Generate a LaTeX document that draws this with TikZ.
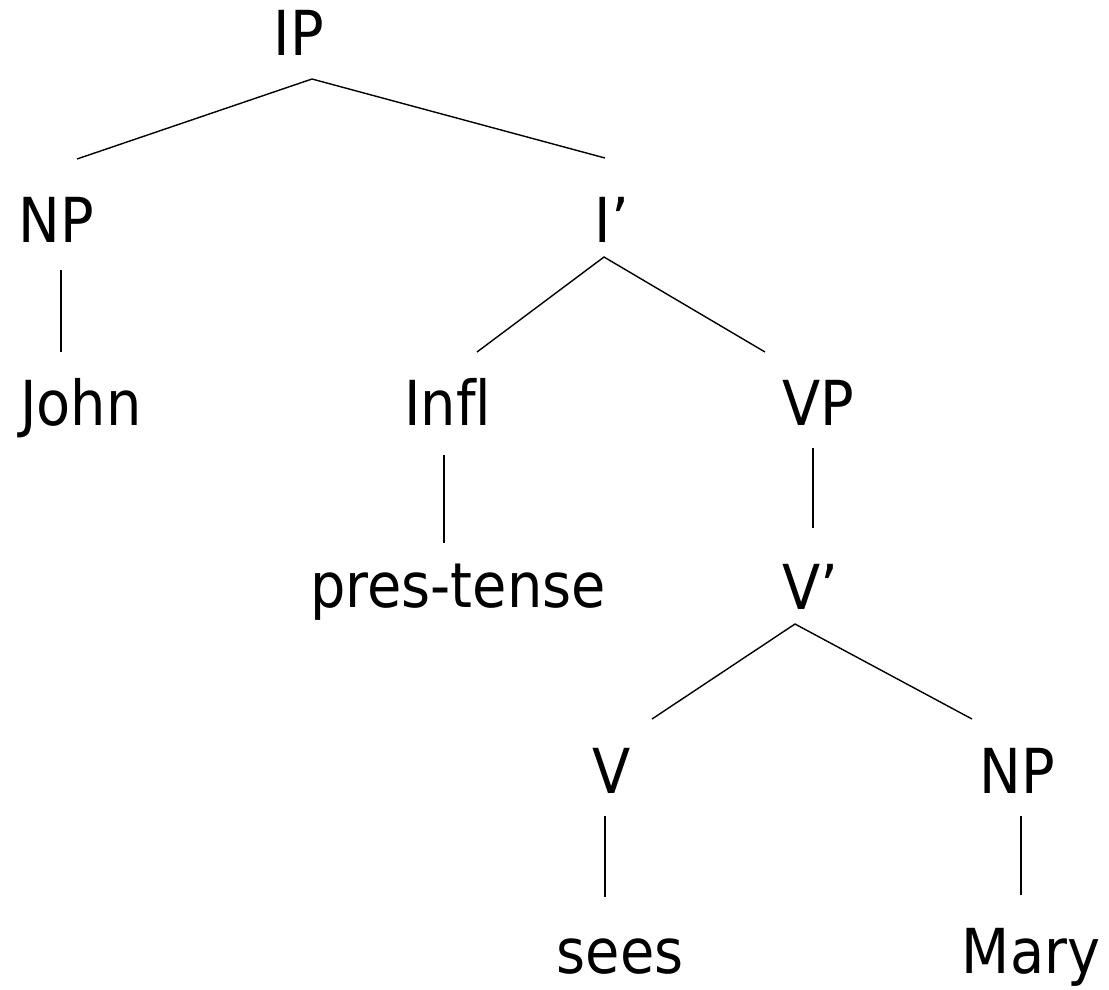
\documentclass[tikz,border=0pt]{standalone}
\usepackage{fontspec}
\setmainfont{DejaVu Sans Condensed}[Ligatures=CommonOff]
\begin{document}
\begin{tikzpicture}[x=1pt,y=-1pt,
  lab/.style={anchor=base,inner sep=0pt,font=\fontsize{62}{66}\selectfont},
  edge/.style={line width=1.4pt}]
\useasboundingbox (0,0) rectangle (1109,989);
\node[lab] (IP) at (299,55) {IP};
\node[lab] (NP1) at (56,242) {NP};
\node[lab] (Ib) at (612,242) {I’};
\node[lab] (John) at (81,425) {John};
\node[lab] (Infl) at (448,425) {Infl};
\node[lab] (VP) at (818,425) {VP};
\node[lab] (pres) at (458,607) {pres-tense};
\node[lab] (Vb) at (810,609) {V’};
\node[lab] (V) at (612,793) {V};
\node[lab] (NP2) at (1017,793) {NP};
\node[lab] (sees) at (620,973) {sees};
\node[lab] (Mary) at (1031,973) {Mary};
% connector ends
\coordinate (IPs) at (312,79);
\coordinate (NP1n) at (77,159);
\coordinate (Ibn) at (605,158);
\coordinate (NP1s) at (61,270);
\coordinate (Johnn) at (61,352);
\coordinate (Ibs) at (604,257);
\coordinate (Infln) at (477,352);
\coordinate (VPn) at (765,352);
\coordinate (Infls) at (444,455);
\coordinate (presn) at (444,543);
\coordinate (VPs) at (813,448);
\coordinate (Vbn) at (813,528);
\coordinate (Vbs) at (795,624);
\coordinate (Vn) at (652,719);
\coordinate (NP2n) at (972,719);
\coordinate (Vs) at (605,816);
\coordinate (seesn) at (605,897);
\coordinate (NP2s) at (1021,816);
\coordinate (Maryn) at (1021,895);
\draw[edge] (NP1n) -- (IPs) -- (Ibn);
\draw[edge] (NP1s) -- (Johnn);
\draw[edge] (Infln) -- (Ibs) -- (VPn);
\draw[edge] (Infls) -- (presn);
\draw[edge] (VPs) -- (Vbn);
\draw[edge] (Vn) -- (Vbs) -- (NP2n);
\draw[edge] (Vs) -- (seesn);
\draw[edge] (NP2s) -- (Maryn);
\end{tikzpicture}
\end{document}
